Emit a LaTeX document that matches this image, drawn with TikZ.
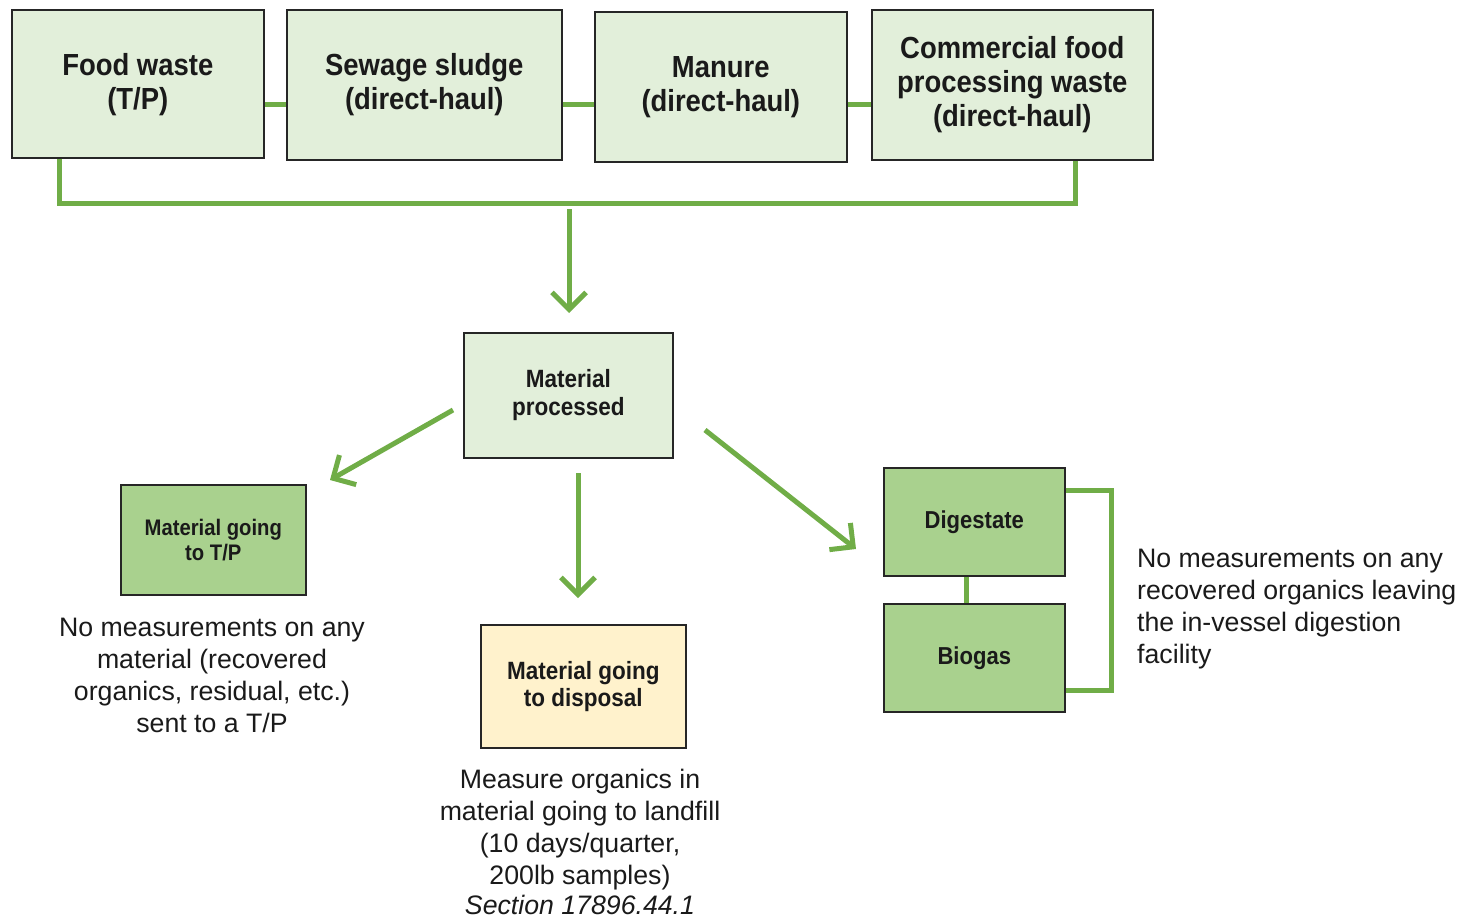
\documentclass[tikz,border=0pt]{standalone}
\usepackage{fontspec}
\setmainfont{Liberation Sans}
\newfontfamily\boxfont{Liberation Sans}[FakeStretch=0.9]
\usetikzlibrary{arrows.meta}
\definecolor{lgreen}{HTML}{E2EFDA}
\definecolor{mgreen}{HTML}{A9D18E}
\definecolor{lineg}{HTML}{70AD47}
\definecolor{lyellow}{HTML}{FFF2CC}
\definecolor{bord}{HTML}{262626}
\definecolor{txt}{HTML}{1A1A1A}
\begin{document}
\begin{tikzpicture}[x=1pt,y=-1pt,
  box/.style={draw=bord,line width=1.6pt,inner sep=0pt,align=center,anchor=north west,text=txt},
  topbox/.style={box,fill=lgreen,font=\boxfont\bfseries\fontsize{30.5}{34}\selectfont},
  midbox/.style={box,fill=lgreen,font=\boxfont\bfseries\fontsize{25}{28}\selectfont},
  darkbox/.style={box,fill=mgreen,font=\boxfont\bfseries\fontsize{24.5}{28}\selectfont},
  tpbox/.style={box,fill=mgreen,font=\boxfont\bfseries\fontsize{22.5}{25}\selectfont},
  dispbox/.style={box,fill=lyellow,font=\boxfont\bfseries\fontsize{25}{27}\selectfont},
  note/.style={inner sep=0pt,text=txt,font=\fontsize{26.7}{32}\selectfont},
  link/.style={draw=lineg,line width=5pt},
  arr/.style={link,-{Straight Barb[length=17pt,width=34pt,line width=5pt]}}
]
\useasboundingbox (0,0) rectangle (1465,921);

% top row
\node[topbox,minimum width=252pt,minimum height=148pt,text depth=4pt] (fw) at (11,9) {Food waste\\(T/P)};
\node[topbox,minimum width=275pt,minimum height=150pt] (ss) at (286,9) {Sewage sludge\\(direct-haul)};
\node[topbox,minimum width=252pt,minimum height=150pt] (mn) at (594,11) {Manure\\(direct-haul)};
\node[topbox,minimum width=281pt,minimum height=150pt] (cf) at (871,9) {Commercial food\\processing waste\\(direct-haul)};

\draw[link] (fw.east |- 0,104) -- (ss.west |- 0,104);
\draw[link] (ss.east |- 0,104) -- (mn.west |- 0,104);
\draw[link] (mn.east |- 0,104) -- (cf.west |- 0,104);
\draw[link] (fw.south -| 59,0) |- (1075,203) -- (cf.south -| 1075,0);

% middle
\node[midbox,minimum width=209pt,minimum height=125pt] (mp) at (463,332) {Material\\processed};
\coordinate (a0) at (569,209);
\coordinate (a1) at (569,313);
\draw[arr] (a0) -- (a1);

\node[tpbox,minimum width=185pt,minimum height=110pt] (tp) at (120,484) {Material going\\to T/P};
\node[dispbox,minimum width=205pt,minimum height=123pt] (dp) at (480,624) {Material going\\to disposal};
\node[darkbox,minimum width=181pt,minimum height=108pt] (dg) at (883,467) {Digestate};
\node[darkbox,minimum width=181pt,minimum height=108pt] (bg) at (883,603) {Biogas};

\coordinate (l0) at (453,410);
\coordinate (l1) at (330,480);
\coordinate (d0) at (578,473);
\coordinate (d1) at (578,598);
\coordinate (r0) at (705,430);
\coordinate (r1) at (856,549);
\draw[arr] (l0) -- (l1);
\draw[arr] (d0) -- (d1);
\draw[arr] (r0) -- (r1);

\draw[link] (dg.south -| 966,0) -- (bg.north -| 966,0);
\draw[link] (dg.east |- 0,490) -| (1111,600) |- (bg.east |- 0,690);

% notes
\node[note,align=center] (n1) at (212,675) {No measurements on any\\material (recovered\\organics, residual, etc.)\\sent to a T/P};
\node[note,align=center,anchor=north] (n2) at (580,769) {Measure organics in\\material going to landfill\\(10 days/quarter,\\200lb samples)\\[-2pt]\textit{Section 17896.44.1}};
\node[note,align=left,anchor=west] (n3) at (1137,609) {No measurements on any\\recovered organics leaving\\the in-vessel digestion\\facility};
\end{tikzpicture}
\end{document}
